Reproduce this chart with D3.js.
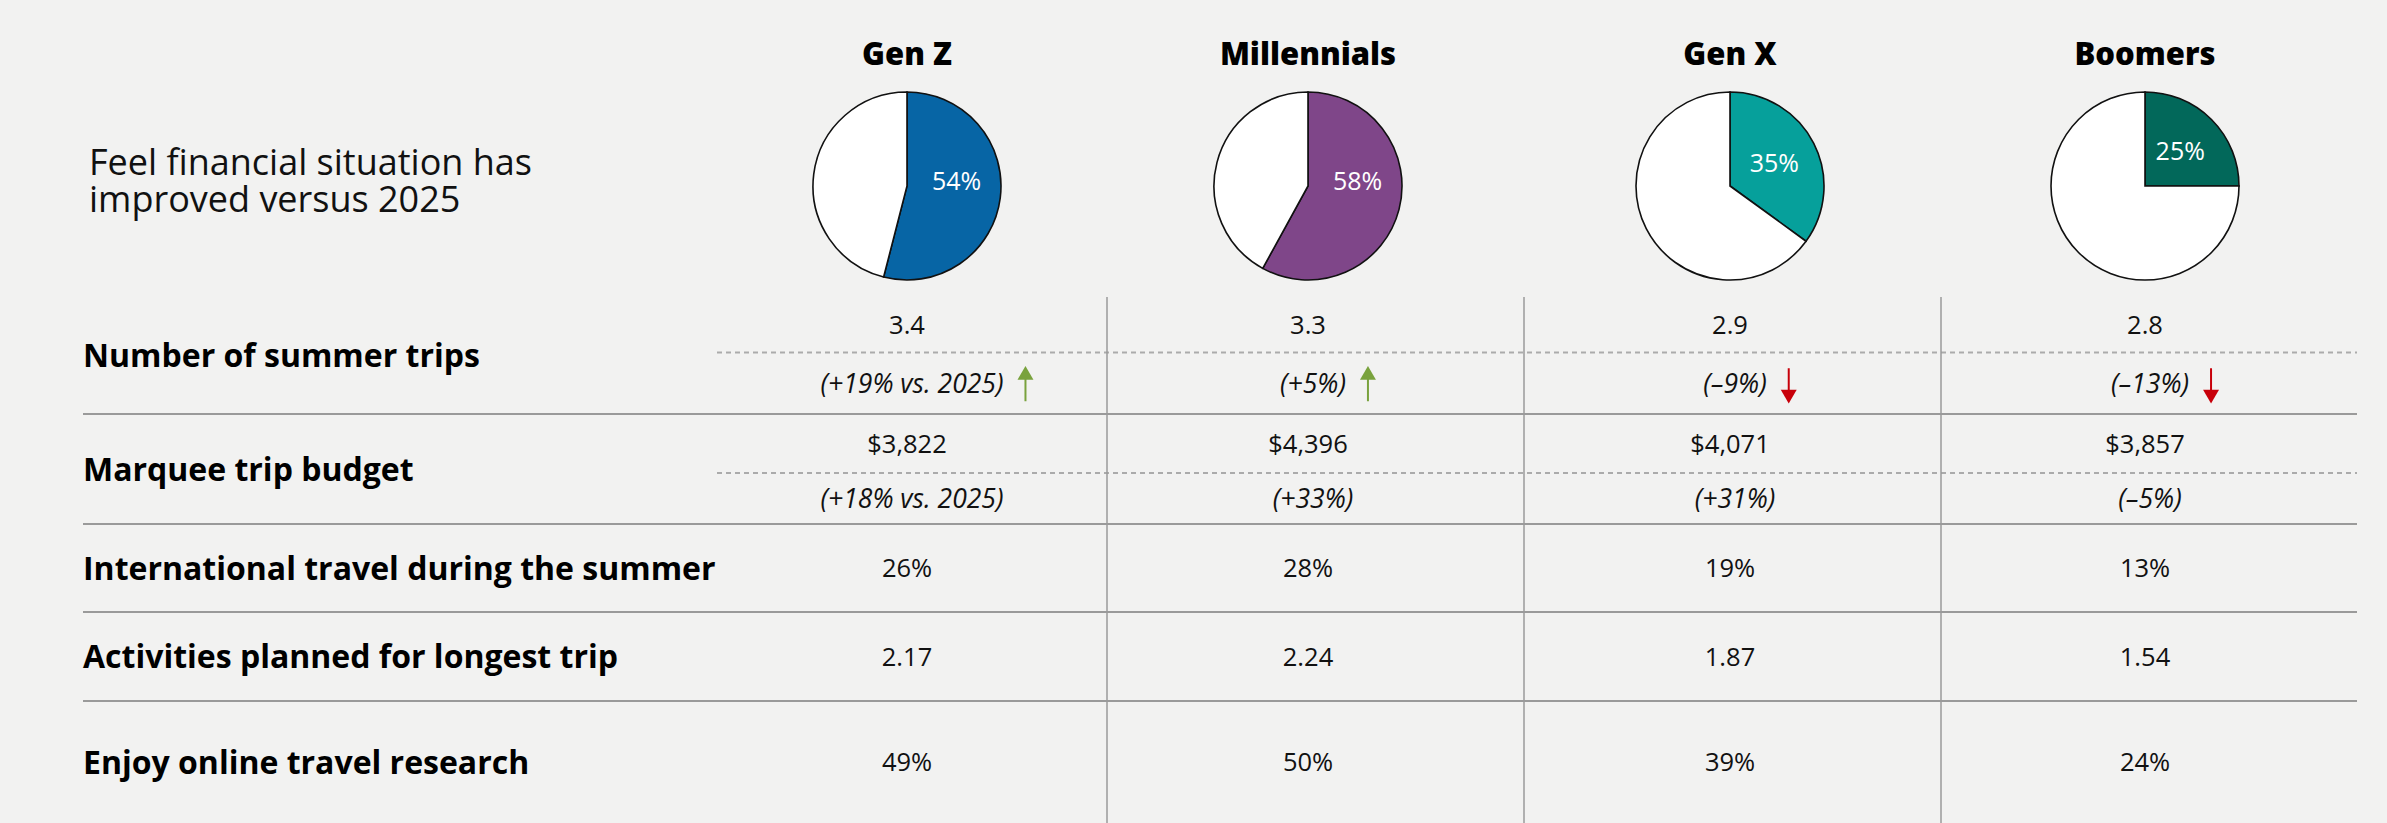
<!DOCTYPE html>
<html>
<head>
<meta charset="utf-8">
<script src="https://cdn.jsdelivr.net/npm/d3@7"></script>
<style>
	body { margin: 0; background: #f2f2f1; }
	svg { display: block; font-family: "Open Sans", sans-serif; }
</style>
</head>
<body>
<div id="chart"></div>
<script>

// DATA
const generations = ["Gen Z", "Millennials", "Gen X", "Boomers"];
const pieColors = ["#0765a5", "#7f4689", "#06a09b", "#02685a"];
const improvedShare = [54, 58, 35, 25];
const summerTrips = [3.4, 3.3, 2.9, 2.8];
const tripsChange = ["(+19% vs. 2025)", "(+5%)", "(–9%)", "(–13%)"];
const tripsDirection = ["up", "up", "down", "down"];
const tripBudget = [3822, 4396, 4071, 3857];
const budgetChange = ["(+18% vs. 2025)", "(+33%)", "(+31%)", "(–5%)"];
const internationalShare = [26, 28, 19, 13];
const activitiesPlanned = [2.17, 2.24, 1.87, 1.54];
const onlineResearch = [49, 50, 39, 24];
const pieTitle = ["Feel financial situation has", "improved versus 2025"];
const rowLabels = [
	"Number of summer trips",
	"Marquee trip budget",
	"International travel during the summer",
	"Activities planned for longest trip",
	"Enjoy online travel research"
];


// CHART
function drawChart() {
	const w = 2387;
	const h = 823;
	const padLeft = 83;
	const padRight = 30;
	const valueStart = 717;

	// column centres (columns are not quite even in the original)
	const x = d3.scaleOrdinal()
		.domain(generations)
		.range([907, 1308, 1730, 2145]);
	const dividers = [1107, 1524, 1941];

	// row bands of the table
	const rowEdges = [297, 414, 524, 612, 701, 823];
	const rowMid = i => (rowEdges[i] + rowEdges[i + 1]) / 2;

	const svg = d3.select("#chart")
		.append("svg")
		.attr("width", w)
		.attr("height", h);

	svg.append("rect")
		.attr("width", w)
		.attr("height", h)
		.attr("fill", "#f2f2f1");

	// headers
	svg.selectAll(".head")
		.data(generations)
		.enter()
		.append("text")
		.attr("class", "head")
		.attr("x", d => x(d))
		.attr("y", 65)
		.attr("text-anchor", "middle")
		.attr("font-size", 31)
		.attr("font-weight", 800)
		.attr("fill", "#000")
		.text(d => d);

	// pie title on the left (two lines, tight leading as in the original)
	svg.selectAll(".ptitle")
		.data(pieTitle)
		.enter()
		.append("text")
		.attr("x", 89)
		.attr("y", (d, i) => 175 + i * 37)
		.attr("font-size", 36)
		.attr("fill", "#111")
		.text(d => d);

	// pies
	const r = 94;
	const cy = 186;
	const pie = d3.pie().sort(null).value(d => d.v);
	const arc = d3.arc().innerRadius(0).outerRadius(r);
	const maxLabelAngle = 85 * Math.PI / 180;

	generations.forEach((g, i) => {
		const slices = pie([
			{ v: improvedShare[i], fill: pieColors[i] },
			{ v: 100 - improvedShare[i], fill: "#ffffff" }
		]);
		const gp = svg.append("g")
			.attr("transform", `translate(${x(g)},${cy})`);
		gp.selectAll("path")
			.data(slices)
			.enter()
			.append("path")
			.attr("d", arc)
			.attr("fill", d => d.data.fill)
			.attr("stroke", "#111")
			.attr("stroke-width", 1.6);
		// label sits inside the slice, kept above the horizontal like the original
		const s = slices[0];
		const a = Math.min((s.startAngle + s.endAngle) / 2, maxLabelAngle);
		const dist = r * 0.53;
		gp.append("text")
			.attr("x", Math.sin(a) * dist)
			.attr("y", -Math.cos(a) * dist)
			.attr("dy", "0.35em")
			.attr("text-anchor", "middle")
			.attr("font-size", 25)
			.attr("fill", "#fff")
			.text(improvedShare[i] + "%");
	});

	// grid lines
	svg.selectAll(".solid")
		.data(rowEdges.slice(1, 5))
		.enter()
		.append("line")
		.attr("x1", padLeft)
		.attr("x2", w - padRight)
		.attr("y1", d => d)
		.attr("y2", d => d)
		.attr("stroke", "#9a9a9a")
		.attr("stroke-width", 2);

	const splitY = [rowMid(0) - 3, rowMid(1) + 4];
	svg.selectAll(".dash")
		.data(splitY)
		.enter()
		.append("line")
		.attr("x1", valueStart)
		.attr("x2", w - padRight)
		.attr("y1", d => d)
		.attr("y2", d => d)
		.attr("stroke", "#ababab")
		.attr("stroke-width", 2)
		.attr("stroke-dasharray", "5,4");

	svg.selectAll(".divider")
		.data(dividers)
		.enter()
		.append("line")
		.attr("x1", d => d)
		.attr("x2", d => d)
		.attr("y1", rowEdges[0])
		.attr("y2", h)
		.attr("stroke", "#9a9a9a")
		.attr("stroke-width", 1.5);

	// row labels
	svg.selectAll(".rowlabel")
		.data(rowLabels)
		.enter()
		.append("text")
		.attr("x", padLeft)
		.attr("y", (d, i) => rowMid(i))
		.attr("dy", "0.36em")
		.attr("font-size", 32)
		.attr("font-weight", 700)
		.attr("fill", "#000")
		.text(d => d);

	// value cells
	const fmtMoney = d3.format("$,");
	const cells = [
		{ vals: summerTrips.map(d => d.toFixed(1)), y: (rowEdges[0] + splitY[0]) / 2, italic: false },
		{ vals: tripsChange, y: (splitY[0] + rowEdges[1]) / 2, italic: true, arrows: true },
		{ vals: tripBudget.map(fmtMoney), y: (rowEdges[1] + splitY[1]) / 2, italic: false },
		{ vals: budgetChange, y: (splitY[1] + rowEdges[2]) / 2, italic: true },
		{ vals: internationalShare.map(d => d + "%"), y: rowMid(2), italic: false },
		{ vals: activitiesPlanned.map(d => d.toFixed(2)), y: rowMid(3), italic: false },
		{ vals: onlineResearch.map(d => d + "%"), y: rowMid(4), italic: false }
	];

	cells.forEach(row => {
		const t = svg.selectAll(null)
			.data(row.vals)
			.enter()
			.append("text")
			.attr("x", (d, i) => x(generations[i]) + (row.italic ? 5 : 0))
			.attr("y", row.y)
			.attr("dy", "0.36em")
			.attr("text-anchor", "middle")
			.attr("font-size", row.italic ? 26.5 : 25.5)
			.attr("font-style", row.italic ? "italic" : "normal")
			.attr("fill", "#111")
			.text(d => d);

		if (row.arrows) {
			t.each(function (d, i) {
				const box = this.getBBox();
				const ax = box.x + box.width + 22;
				const up = tripsDirection[i] === "up";
				const col = up ? "#79a23d" : "#c8000a";
				const top = row.y - 15;
				const bot = row.y + 18;
				const a = svg.append("g");
				a.append("line")
					.attr("x1", ax).attr("x2", ax)
					.attr("y1", up ? top + 10 : top)
					.attr("y2", up ? bot : bot - 10)
					.attr("stroke", col)
					.attr("stroke-width", 2);
				a.append("path")
					.attr("d", d3.symbol(d3.symbolTriangle, 110)())
					.attr("transform", `translate(${ax},${up ? top + 7 : bot - 7}) rotate(${up ? 0 : 180})`)
					.attr("fill", col);
			});
		}
	});
}

document.addEventListener("DOMContentLoaded", () => {
	drawChart();
});
</script>
</body>
</html>
